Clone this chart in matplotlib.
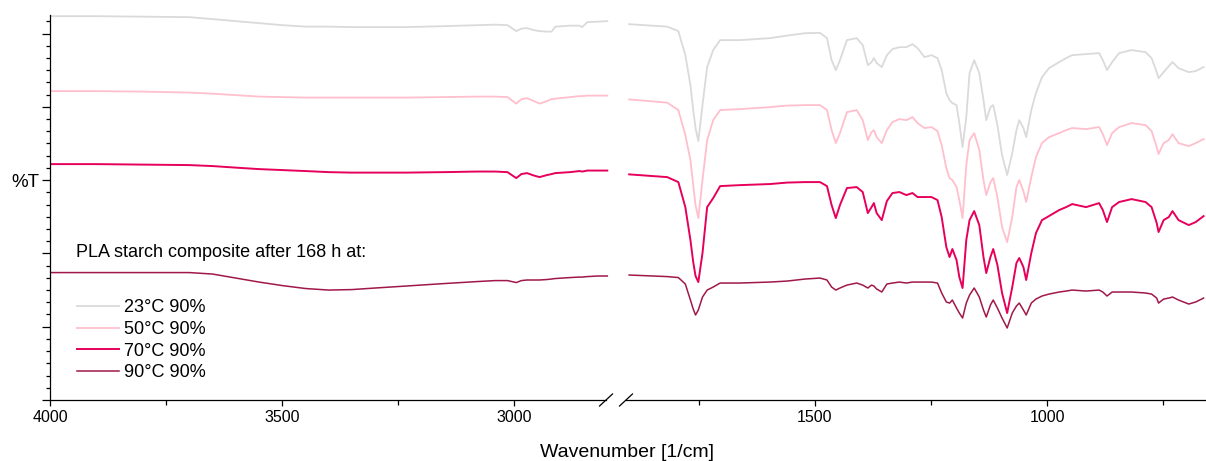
import numpy as np
import matplotlib
matplotlib.use("Agg")
import matplotlib.pyplot as plt

plt.rcParams['font.family'] = ['Liberation Sans', 'DejaVu Sans']

# FTIR spectra, PLA starch composite (stacked %T)
labels = ['23°C 90%', '50°C 90%', '70°C 90%', '90°C 90%']
colors = ['#dadada', '#ffbfcc', '#e6005c', '#a0184a']
widths = [1.3, 1.3, 1.4, 1.1]

wn_left = [4000, 3900, 3800, 3700, 3650, 3600, 3550, 3500, 3450, 3400, 3350,
           3300, 3234, 3150, 3080, 3042, 3015, 2996, 2985, 2973, 2958, 2946,
           2930, 2920, 2912, 2880, 2860, 2854, 2843, 2820, 2800]

t23_left = [392.8, 392.8, 392.3, 391.8, 389.8, 387.7, 385.7, 383.6, 382.1, 382.1,
            381.6, 381.6, 381.6, 382.6, 383.6, 384.1, 383.6, 377.5, 380.0, 380.6,
            378.5, 377.5, 377.0, 377.0, 382.1, 383.1, 383.1, 381.6, 386.7, 387.2, 387.7]
t50_left = [316.1, 316.1, 315.6, 314.6, 313.5, 312.0, 310.5, 310.0, 309.5, 309.5,
            309.5, 309.5, 309.5, 310.0, 310.5, 310.5, 310.0, 303.3, 307.9, 308.9,
            305.9, 303.3, 305.9, 307.9, 308.4, 310.0, 311.0, 311.0, 311.5, 311.5, 311.5]
t70_left = [241.4, 241.4, 240.9, 240.4, 239.4, 237.8, 236.3, 235.3, 234.3, 233.2,
            232.7, 232.7, 232.7, 233.2, 233.8, 233.8, 233.2, 227.1, 231.2, 232.2,
            229.7, 228.1, 230.2, 231.2, 232.2, 233.2, 234.3, 233.8, 234.8, 234.8, 234.8]
t90_left = [130.4, 130.4, 130.4, 130.4, 128.9, 124.8, 120.7, 117.1, 114.1, 112.5,
            113.0, 114.6, 116.6, 119.2, 121.2, 122.2, 122.2, 120.2, 122.2, 122.8,
            122.8, 122.8, 123.3, 123.8, 124.3, 125.3, 125.8, 125.8, 126.3, 126.9, 126.9]

wn_right = [1900, 1818, 1794, 1779, 1768, 1762, 1757, 1751, 1742, 1732,
            1719, 1704, 1661, 1597, 1560, 1521, 1489, 1474, 1464, 1455,
            1446, 1431, 1410, 1397, 1386, 1378, 1373, 1367, 1356, 1345,
            1333, 1318, 1303, 1290, 1279, 1264, 1249, 1236, 1227, 1217,
            1210, 1204, 1195, 1189, 1182, 1174, 1167, 1157, 1146, 1137,
            1131, 1122, 1116, 1107, 1097, 1086, 1075, 1066, 1060, 1051,
            1045, 1034, 1024, 1011, 996, 974, 959, 946, 916, 888,
            880, 871, 860, 845, 818, 788, 775, 764, 760, 749,
            738, 730, 717, 695, 680, 663]

t23_right = [384.6, 382.1, 377.5, 352.9, 322.2, 296.7, 278.3, 265.0, 301.8, 340.7,
             358.1, 368.3, 368.3, 370.3, 372.9, 375.4, 375.7, 370.3, 347.8, 337.6,
             347.8, 368.3, 370.3, 363.2, 342.7, 345.8, 349.9, 344.8, 340.7, 352.9,
             359.1, 361.1, 361.1, 364.2, 360.1, 350.9, 352.9, 349.9, 337.6, 314.1,
             306.9, 303.8, 301.8, 283.4, 258.8, 289.5, 334.5, 347.8, 334.5, 306.9,
             286.4, 299.7, 301.8, 281.3, 250.6, 230.2, 252.7, 276.2, 286.4, 278.3,
             269.0, 296.7, 314.1, 330.4, 339.6, 345.8, 349.9, 352.9, 354.0, 355.0,
             347.8, 337.6, 345.8, 355.0, 358.1, 356.0, 349.9, 335.5, 329.4, 335.5,
             341.7, 345.8, 339.6, 335.5, 336.6, 340.7]
t50_right = [307.6, 304.3, 296.7, 271.1, 245.5, 219.9, 199.5, 186.2, 225.1, 266.0,
             286.4, 296.7, 297.7, 299.7, 301.3, 301.8, 301.8, 296.7, 276.2, 262.9,
             273.1, 294.6, 296.7, 286.4, 266.0, 274.2, 276.2, 269.0, 262.9, 276.2,
             284.4, 287.5, 286.4, 289.5, 283.4, 278.3, 279.3, 275.2, 260.9, 237.3,
             227.1, 225.1, 217.9, 204.6, 186.2, 240.4, 266.0, 273.1, 255.8, 225.1,
             209.7, 223.0, 227.1, 207.7, 177.0, 161.6, 187.2, 217.9, 225.1, 213.8,
             202.6, 228.1, 248.6, 262.9, 269.0, 273.1, 276.2, 278.3, 277.2, 279.3,
             272.1, 260.9, 273.1, 279.3, 283.4, 281.3, 275.2, 258.8, 251.7, 262.9,
             266.0, 272.1, 262.9, 259.8, 262.9, 267.0]
t70_right = [230.9, 228.1, 223.0, 197.4, 163.7, 141.2, 126.9, 120.7, 150.4, 197.4,
             206.6, 218.9, 219.9, 221.0, 222.5, 223.0, 223.0, 218.9, 199.5, 186.2,
             199.5, 216.9, 217.9, 212.8, 191.3, 197.4, 201.5, 191.3, 184.1, 203.6,
             211.8, 212.8, 209.7, 211.8, 207.7, 207.7, 207.7, 204.6, 187.2, 156.5,
             146.3, 154.5, 143.2, 125.8, 114.6, 163.7, 184.1, 193.3, 179.0, 146.3,
             129.9, 146.3, 154.5, 138.1, 109.5, 89.0, 115.6, 140.2, 145.3, 136.1,
             122.8, 150.4, 170.8, 184.1, 188.2, 194.4, 197.4, 200.5, 197.4, 201.5,
             194.4, 182.1, 197.4, 202.6, 205.6, 202.6, 197.4, 181.1, 171.9, 184.1,
             187.2, 193.3, 184.1, 179.0, 182.1, 188.2]
t90_right = [127.9, 126.3, 125.3, 118.7, 102.3, 93.1, 87.0, 92.1, 105.4, 112.5,
             115.6, 119.7, 119.7, 120.7, 121.7, 123.8, 124.8, 122.8, 115.6, 112.5,
             114.6, 117.6, 119.7, 117.6, 114.6, 117.6, 116.6, 113.6, 110.5, 118.7,
             119.7, 120.7, 119.7, 120.7, 120.7, 120.7, 120.7, 119.7, 109.5, 100.3,
             99.2, 102.3, 94.1, 89.0, 83.9, 99.2, 107.4, 114.6, 105.4, 92.1,
             84.9, 97.2, 102.3, 94.1, 83.9, 73.7, 89.0, 96.2, 99.2, 92.1,
             87.0, 99.2, 103.3, 106.4, 108.4, 110.5, 111.5, 112.5, 111.5, 112.5,
             110.5, 106.4, 110.5, 110.5, 110.5, 109.5, 108.4, 104.3, 99.2, 103.3,
             104.3, 105.4, 102.3, 98.2, 100.3, 104.3]

left_sets = [t23_left, t50_left, t70_left, t90_left]
right_sets = [t23_right, t50_right, t70_right, t90_right]

# broken x axis: 2800..1900 is squeezed into a small gap
GAP = 47.0


def _fwd(w):
    w = np.asarray(w, dtype=float)
    return np.where(w >= 2800, w - 900 + GAP,
                    np.where(w <= 1900, w, 1900 + (w - 1900) * GAP / 900))


def _inv(t):
    t = np.asarray(t, dtype=float)
    return np.where(t >= 1900 + GAP, t + 900 - GAP,
                    np.where(t <= 1900, t, 1900 + (t - 1900) * 900 / GAP))


fig = plt.figure(figsize=(12.06, 4.61), dpi=100)
ax = fig.add_axes([50 / 1206, 61 / 461, 1155 / 1206, 385 / 461])
ax.set_xscale('function', functions=(_fwd, _inv))

for i in range(4):
    ax.plot(wn_left, left_sets[i], color=colors[i], lw=widths[i])
    ax.plot(wn_right, right_sets[i], color=colors[i], lw=widths[i], label=labels[i])

ax.set_xlim(4000, 660)
ax.set_ylim(0, 394)

ax.set_xticks([4000, 3500, 3000, 1500, 1000], labels=['4000', '3500', '3000', '1500', '1000'])
ax.set_xticks([3750, 3250, 1750, 1250, 750], minor=True)
ax.set_yticks([0, 75, 150, 225, 300, 375], labels=['', '', '', '%T', '', ''])
ax.set_yticks(np.arange(0, 394, 12.5), minor=True)

ax.tick_params(axis='x', which='major', direction='out', length=4, width=0.9, labelsize=11.5, pad=3)
ax.tick_params(axis='x', which='minor', direction='out', length=3.5, width=0.9)
ax.tick_params(axis='y', which='major', direction='out', length=5.5, width=0.9, labelsize=13.5, pad=2)
ax.tick_params(axis='y', which='minor', direction='out', length=3, width=0.9)

for s in ['top', 'right', 'bottom']:
    ax.spines[s].set_visible(False)
ax.spines['left'].set_linewidth(0.9)

# bottom axis line with the break marks
b1, b2 = 0.4814, 0.4987
dx, dy = 0.0056, 0.0156
ax.plot([0, b1], [0, 0], color='black', lw=0.9, transform=ax.transAxes, clip_on=False)
ax.plot([b2, 1], [0, 0], color='black', lw=0.9, transform=ax.transAxes, clip_on=False)
for b in (b1, b2):
    ax.plot([b - dx, b + dx], [-dy, dy], color='black', lw=0.9,
            transform=ax.transAxes, clip_on=False)

ax.set_xlabel('Wavenumber [1/cm]', fontsize=14, labelpad=14)

ax.text(0.0225, 0.382, 'PLA starch composite after 168 h at:', transform=ax.transAxes,
        fontsize=13, va='center', ha='left')
ax.legend(loc='upper left', bbox_to_anchor=(0.0234, 0.262), frameon=False,
          fontsize=13, handlelength=2.3, handletextpad=0.3, labelspacing=0.26,
          borderpad=0, borderaxespad=0)

fig.savefig('out.png', dpi=100)
